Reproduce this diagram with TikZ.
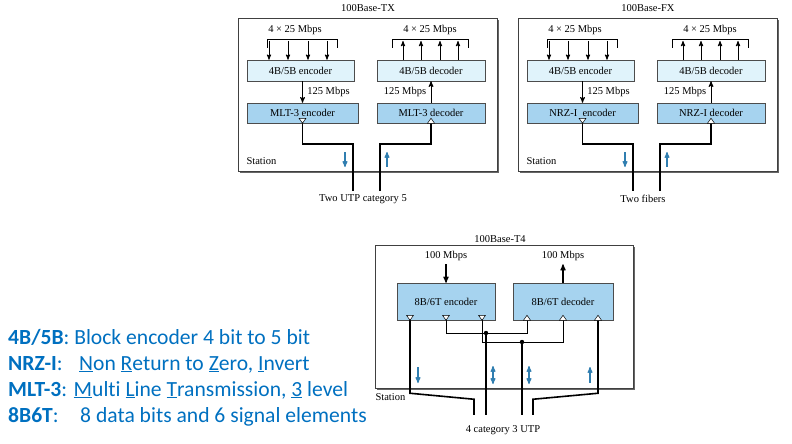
\documentclass[tikz,border=0pt]{standalone}
\usepackage{fontspec}
\setmainfont{Liberation Serif}
\newfontfamily\legendfont[Ligatures=NoCommon]{Carlito}
\usepackage{tikz}
\usetikzlibrary{arrows,shadows}

\definecolor{lightbox}{RGB}{224,243,251}
\definecolor{darkbox}{RGB}{166,211,239}
\definecolor{flowblue}{RGB}{48,126,176}
\definecolor{legendblue}{RGB}{0,112,192}

\tikzset{
  station/.style={draw=black!75,fill=white,line width=0.6,
    drop shadow={shadow xshift=2pt,shadow yshift=-2pt,fill=black!60,opacity=1}},
  codebox/.style={draw=black!70,fill=#1,line width=0.5,inner sep=0pt,
    drop shadow={shadow xshift=1pt,shadow yshift=-1pt,fill=black!45,opacity=1}},
  wire/.style={line width=1.6,line cap=rect},
  thinwire/.style={line width=0.8},
  tri/.style={draw=black,fill=white,line width=0.5},
  flow/.style={flowblue,line width=1.1},
  legend/.style={legendblue,inner sep=0pt,anchor=base west,
    font=\legendfont\fontsize{21.6}{25}\selectfont}
}
\newcommand{\downtri}[1]{\draw[tri] (#1) -- ++(-3.5,-5) -- ++(7,0) -- cycle;}
\newcommand{\uptri}[1]{\draw[tri] (#1) ++(-3.5,0) -- ++(7,0) -- ++(-3.5,-5) -- cycle;}

\begin{document}
\begin{tikzpicture}[x=1pt,y=-1pt,>=stealth',font=\fontsize{10.5}{12}\selectfont]
\useasboundingbox (0,0) rectangle (792,444);

% 100Base-TX and 100Base-FX
\foreach \dx/\p/\title/\enc/\dec/\cable in {0/tx/100Base-TX/MLT-3 encoder/MLT-3 decoder/Two UTP category 5,
                                            280/fx/100Base-FX/NRZ-I~ encoder/NRZ-I decoder/Two fibers}{
\begin{scope}[xshift=\dx]
  \node[station,minimum width=259,minimum height=153] (\p-st) at (367.5,94.5) {};
  \node (\p-title) at (368,8) {\title};
  \node[anchor=west] (\p-stn) at (243,161) {Station};
  \node (\p-cab) at (363,199) {\cable};
  \node[codebox=lightbox,minimum width=107,minimum height=21] (\p-uenc) at (300.5,70.5) {4B/5B encoder};
  \node[codebox=lightbox,minimum width=108,minimum height=21] (\p-udec) at (431,70.5) {4B/5B decoder};
  \node[codebox=darkbox,minimum width=111,minimum height=20] (\p-lenc) at (302.5,113) {\enc};
  \node[codebox=darkbox,minimum width=108,minimum height=20] (\p-ldec) at (431,113) {\dec};
  \node (\p-rin) at (295,30) {4 × 25 Mbps};
  \node (\p-rout) at (430,30) {4 × 25 Mbps};
  \draw[line width=0.5] (267,48) |- (337,39) -- (337,48);
  \draw[line width=0.5] (392,48) |- (468,39) -- (468,48);
  \foreach \x in {269,288,308,327}
    \draw[->,line width=0.9] (\x,41) -- (\x,0 |- \p-uenc.north);
  \foreach \x in {403,421,440,458}
    \draw[->,line width=0.9] (\x,0 |- \p-udec.north) -- (\x,41);
  \draw[->,line width=1] (\p-lenc |- \p-uenc.south) -- (\p-lenc.north)
    node[midway,right=1pt] {125 Mbps};
  \draw[->,line width=1] (\p-ldec.north) -- (\p-ldec |- \p-udec.south)
    node[midway,left=1pt] {125 Mbps};
  \coordinate (\p-et) at (\p-lenc.south);
  \coordinate (\p-dt) at (\p-ldec.south);
  \coordinate (\p-out) at (353,190);
  \coordinate (\p-in) at (380,190);
  \draw[wire] (\p-et) -- ++(0,21) -| (\p-out);
  \draw[wire] (\p-dt) -- ++(0,21) -| (\p-in);
  \downtri{\p-et}
  \uptri{\p-dt}
  \draw[flow,->] (345,152) -- (345,167);
  \draw[flow,<-] (387,152) -- (387,167);
\end{scope}}

% 100Base-T4
\node[station,minimum width=258,minimum height=143] (t4-st) at (504,316.5) {};
\node (t4-title) at (500,239) {100Base-T4};
\node[anchor=west] (t4-stn) at (372,397) {Station};
\node (t4-cab) at (503,430) {4 category 3 UTP};
\node[codebox=darkbox,minimum width=98,minimum height=37] (t4-enc) at (446,301.5) {8B/6T encoder};
\node[codebox=darkbox,minimum width=100,minimum height=37] (t4-dec) at (563,301.5) {8B/6T decoder};
\node (t4-in) at (446,256) {100 Mbps};
\node (t4-out) at (563,256) {100 Mbps};
\draw[->,line width=1.2] (t4-in) -- (t4-enc);
\draw[->,line width=1.2] (t4-dec) -- (t4-out);

\coordinate (t4-e1) at ([xshift=-36pt]t4-enc.south);
\coordinate (t4-e2) at (t4-enc.south);
\coordinate (t4-e3) at ([xshift=36pt]t4-enc.south);
\coordinate (t4-d1) at ([xshift=-36pt]t4-dec.south);
\coordinate (t4-d2) at (t4-dec.south);
\coordinate (t4-d3) at ([xshift=35pt]t4-dec.south);
\coordinate (t4-j1) at (486,333);
\coordinate (t4-j2) at (522,342);
\coordinate (t4-c1) at (474,414);
\coordinate (t4-c2) at (486,414);
\coordinate (t4-c3) at (522,414);
\coordinate (t4-c4) at (533,414);

\draw[thinwire] (t4-e2) -- ++(0,13) -| (t4-d1);
\draw[thinwire] (t4-e3) -- ++(0,22) -| (t4-d2);
\draw[wire] (t4-e1) -- ++(0,73) -- ++(64,6) -- (t4-c1);
\draw[wire] (t4-d3) -- ++(0,73) -- ++(-65,6) -- (t4-c4);
\draw[wire] (t4-j1) -- (t4-c2);
\draw[wire] (t4-j2) -- (t4-c3);
\fill (t4-j1) circle (2.2);
\fill (t4-j2) circle (2.2);
\downtri{t4-e1} \downtri{t4-e2} \downtri{t4-e3}
\uptri{t4-d1} \uptri{t4-d2} \uptri{t4-d3}

\draw[flow,->] (418,367) -- (418,383);
\draw[flow,<->] (493,366) -- (493,384);
\draw[flow,<->] (529,366) -- (529,384);
\draw[flow,<-] (590,367) -- (590,383);

% legend
\node[legend] (l1) at (8,344) {\textbf{4B/5B}: Block encoder 4 bit to 5 bit};
\node[legend] (l2) at (8,370) {\makebox[71pt][l]{\textbf{NRZ-I}:}\underline{N}on \underline{R}eturn to \underline{Z}ero, \underline{I}nvert};
\node[legend] (l3) at (8,396) {\textbf{MLT-3}: \underline{M}ulti \underline{L}ine \underline{T}ransmission, \underline{3} level};
\node[legend] (l4) at (8,422) {\makebox[72pt][l]{\textbf{8B6T}:}8 data bits and 6 signal elements};
\end{tikzpicture}
\end{document}
